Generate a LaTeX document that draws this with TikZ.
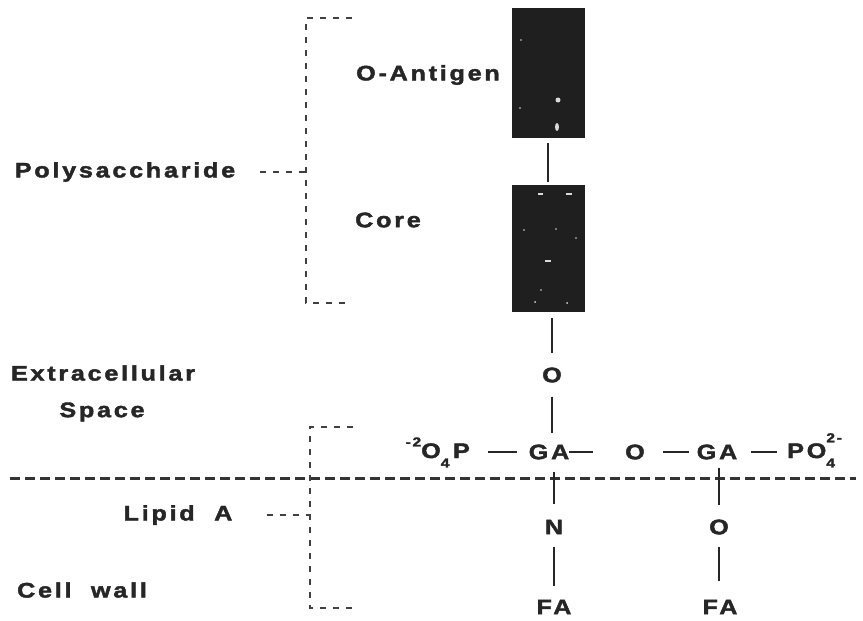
\documentclass[tikz,border=0pt]{standalone}
\usepackage{fontspec}
\usetikzlibrary{calc}
\newfontfamily\lblfont{Liberation Sans}[FakeStretch=1.2,LetterSpace=13,FakeBold=2]
\begin{document}
\begin{tikzpicture}[x=1pt,y=-1pt,
  lbl/.style={font=\lblfont\bfseries\fontsize{21}{24}\selectfont, text=black!85, inner sep=0pt},
  chem/.style={lbl},
  blk/.style={fill=black!88, draw=none, inner sep=0pt},
  bond/.style={line width=2pt, draw=black!85},
  bondv/.style={line width=2.4pt, draw=black!85},
  brk/.style={line width=1.2pt, draw=black!75, dash pattern=on 6pt off 7pt},
  mem/.style={line width=3pt, draw=black!80, dash pattern=on 10pt off 5pt},
  speck/.style={fill=white!85!black, draw=none}]
\path[use as bounding box, fill=white] (0,0) rectangle (863,621);

% boxes
\node[blk, minimum width=73pt, minimum height=130pt] (oant) at (548,73) {};
\node[blk, minimum width=73pt, minimum height=127pt] (core) at (548,248.5) {};
\fill[speck] (558,100) circle (2.5);
\fill[speck] (557,127) ellipse (2 and 4);
\fill[speck] (521,40) circle (0.8);
\fill[speck] (520,108) circle (0.8);
\fill[speck] (538,193) rectangle (543,194.5);
\fill[speck] (566,193) rectangle (572,194.5);
\fill[speck] (524,230) circle (0.8);
\fill[speck] (556,229) circle (0.8);
\fill[speck] (576,238) circle (0.8);
\fill[speck] (545,260) rectangle (551,261.5);
\fill[speck] (541,290) circle (0.8);
\fill[speck] (535,302) circle (1);
\fill[speck] (567,303) circle (1);

% labels
\node[lbl] (oantl) at (428,75) {O-Antigen};
\node[lbl] (corel) at (388,220) {Core};
\node[lbl] (poly) at (125,172) {Polysaccharide};
\node[lbl] (extra) at (103,373) {Extracellular};
\node[lbl] (space) at (102,412) {Space};
\node[lbl] (lipid) at (178,515) {Lipid\ \ A};
\node[lbl] (cell) at (82,590) {Cell\ \ wall};

% membrane
\coordinate (mL) at (10,478);
\coordinate (mR) at (856,478);
\draw[mem] (mL) -- (mR);

% chain
\node[chem] (o1) at (552,375) {O};
\node[chem] (ga1) at (549,452) {GA};
\node[chem] (o2) at (635,452) {O};
\node[chem] (ga2) at (717,452) {GA};
\node[chem, anchor=base east] (lp) at (470,458) {\raisebox{0.55em}{\fontsize{13}{13}\selectfont -2}O\raisebox{-0.45em}{\fontsize{13}{13}\selectfont 4}\,P};
\node[chem, anchor=base west] (rp) at (787,458) {PO\makebox[0pt][l]{\raisebox{-0.45em}{\fontsize{13}{13}\selectfont 4}}\raisebox{0.75em}{\fontsize{13}{13}\selectfont 2-}};
\node[chem] (n) at (554,527) {N};
\node[chem] (o3) at (719,527) {O};
\node[chem] (fa1) at (554,607) {FA};
\node[chem] (fa2) at (720,607) {FA};

% bonds
\draw[bondv, shorten <=5pt, shorten >=3pt] (oant.south) -- (core.north);
\draw[bondv, shorten <=6pt, shorten >=14pt] (o1.north |- core.south) -- (o1.north);
\draw[bondv, shorten <=14pt, shorten >=11pt] (o1.south) -- (o1.south |- ga1.north);
\draw[bond] ($(lp.east |- ga1.west)+(18,0)$) -- ($(ga1.west)+(-12,0)$);
\draw[bond] ($(ga1.east)+(0,0)$) -- ($(o2.west)+(-32,0)$);
\draw[bond] ($(o2.east)+(18,0)$) -- ($(ga2.west)+(-8,0)$);
\draw[bond] ($(ga2.east)+(14,0)$) -- ($(rp.west |- ga2.east)+(-10,0)$);
\draw[bondv, shorten <=12pt, shorten >=16pt] (n.north |- ga1.south) -- (n.north);
\draw[bondv, shorten <=13pt, shorten >=14pt] (n.south) -- (n.south |- fa1.north);
\draw[bondv, shorten <=8pt, shorten >=14pt] (o3.north |- ga2.south) -- (o3.north);
\draw[bondv, shorten <=12pt, shorten >=19pt] (o3.south) -- (o3.south |- fa2.north);

% brackets
\coordinate (pT) at (352,18);
\coordinate (pTc) at (306,18);
\coordinate (pM) at (306,172);
\coordinate (pBc) at (306,303);
\coordinate (pB) at (352,303);
\draw[brk] (pT) -- (pTc) -- (pBc) -- (pB);
\draw[brk] ($(poly.east)+(25,0)$) -- (pM);
\coordinate (lT) at (353,427);
\coordinate (lTc) at (310,427);
\coordinate (lM) at (310,515);
\coordinate (lBc) at (310,608);
\coordinate (lB) at (355,608);
\draw[brk] (lT) -- (lTc) -- (lBc) -- (lB);
\draw[brk] ($(lipid.east)+(34,0)$) -- (lM);
\end{tikzpicture}
\end{document}
